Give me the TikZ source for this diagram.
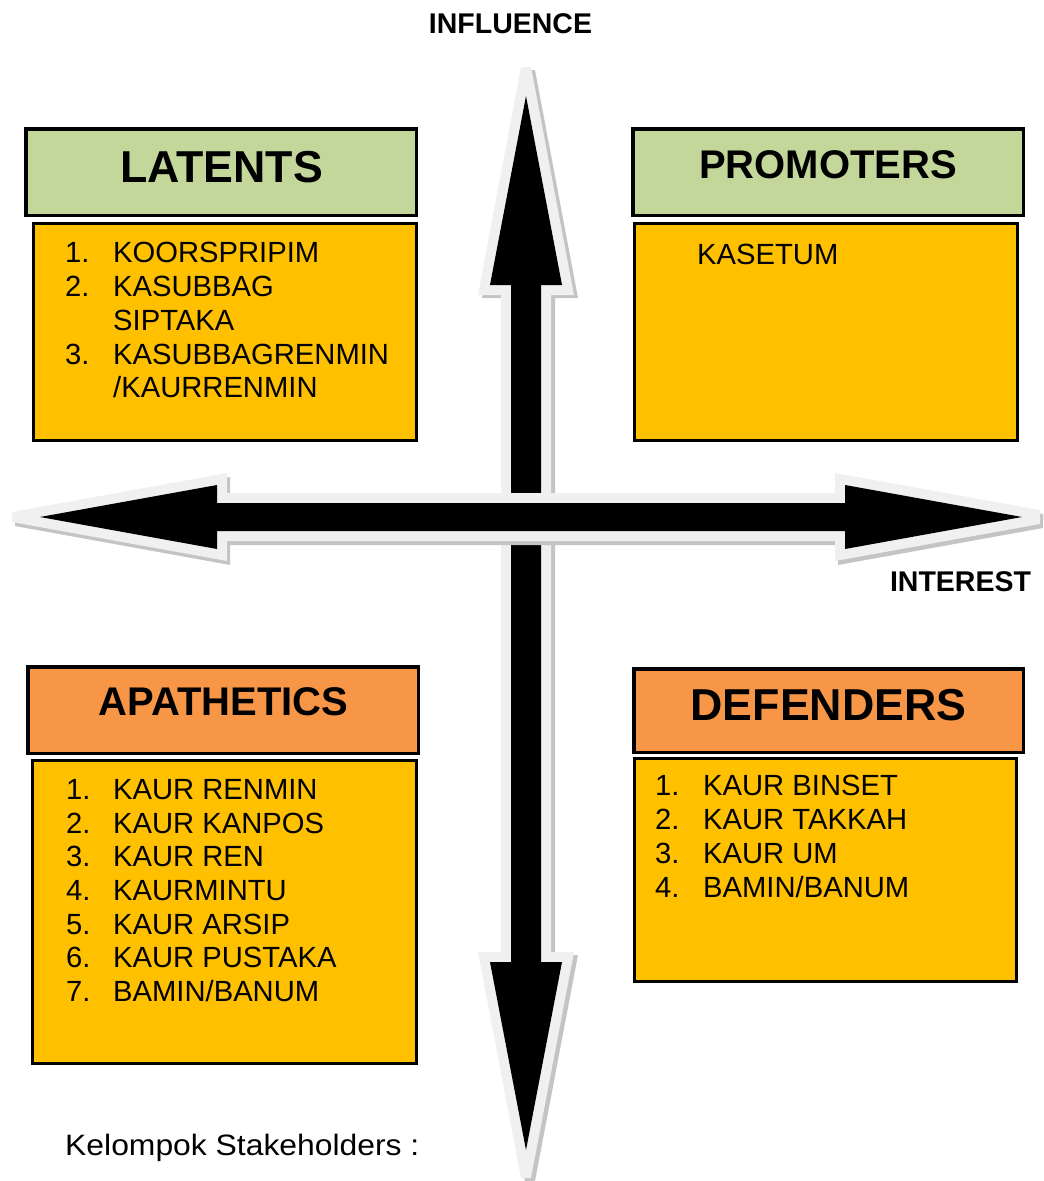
\documentclass[tikz,border=0pt]{standalone}
\usepackage{fontspec}
\setmainfont{Liberation Sans}
\definecolor{hdrgreen}{HTML}{C4D79B}
\definecolor{hdrorange}{HTML}{F79646}
\definecolor{bodyamber}{HTML}{FFC000}
\definecolor{arrowrim}{HTML}{F0F0F0}
\definecolor{arrowshade}{HTML}{C4C4C4}
\tikzset{
  hdrbox/.style={draw=black, line width=3.5pt, inner sep=0pt, outer sep=0pt},
  bodybox/.style={draw=black, line width=3pt, fill=bodyamber, inner sep=0pt, outer sep=0pt},
  bigtitle/.style={inner sep=0pt, font=\fontsize{44.7}{50}\selectfont\bfseries},
  midtitle/.style={inner sep=0pt, font=\fontsize{40}{46}\selectfont\bfseries},
  itemtxt/.style={inner sep=0pt, anchor=base west, font=\fontsize{29.2}{34}\selectfont},
  axislabel/.style={inner sep=0pt, anchor=base, font=\fontsize{28.5}{32}\selectfont\bfseries},
  rim/.style={fill=arrowrim},
  shade/.style={fill=arrowshade},
  core/.style={fill=black}
}
\begin{document}
\begin{tikzpicture}[x=1pt,y=-1pt]
\useasboundingbox (0,0) rectangle (1044,1181);

% vertical double arrow (influence axis)
\fill[shade, shift={(4,3)}] (521,67) -- (531,67) -- (574,295) -- (551,295) -- (551,952) -- (574,952)
  -- (531,1178) -- (521,1178) -- (478,952) -- (501,952) -- (501,295) -- (478,295) -- cycle;
\fill[rim] (521,67) -- (531,67) -- (574,295) -- (551,295) -- (551,952) -- (574,952)
  -- (531,1178) -- (521,1178) -- (478,952) -- (501,952) -- (501,295) -- (478,295) -- cycle;
\fill[core] (526,96) -- (562,285) -- (541,285) -- (541,962) -- (562,962) -- (526,1150)
  -- (490,962) -- (511,962) -- (511,285) -- (490,285) -- cycle;

% horizontal double arrow (interest axis)
\fill[shade, shift={(3,4)}] (12,512) -- (227,473) -- (227,493) -- (835,493) -- (835,473) -- (1040,510)
  -- (1040,524) -- (835,561) -- (835,541) -- (227,541) -- (227,561) -- (12,522) -- cycle;
\fill[rim] (12,512) -- (227,473) -- (227,493) -- (835,493) -- (835,473) -- (1040,510)
  -- (1040,524) -- (835,561) -- (835,541) -- (227,541) -- (227,561) -- (12,522) -- cycle;
\fill[core] (40,517) -- (217,485) -- (217,503) -- (845,503) -- (845,485) -- (1022,517)
  -- (845,549) -- (845,531) -- (217,531) -- (217,549) -- cycle;

% axis labels
\node[axislabel] (influence) at (510.5,33) {INFLUENCE};
\node[axislabel] (interest) at (960.5,591) {INTEREST};

% quadrant: latents
\node[hdrbox, fill=hdrgreen, minimum width=390.5pt, minimum height=86.5pt] (latH) at (221,172) {};
\node[bodybox, minimum width=383pt, minimum height=217pt] (latB) at (225,332) {};
\node[bigtitle, anchor=base] (latT) at (221.5,182) {LATENTS};
\node[itemtxt] (latN1) at (65,262) {1.};
\node[itemtxt] (latI1) at (113,262) {KOORSPRIPIM};
\node[itemtxt] (latN2) at (65,296) {2.};
\node[itemtxt] (latI2) at (113,296) {KASUBBAG};
\node[itemtxt] (latI2b) at (113,330) {SIPTAKA};
\node[itemtxt] (latN3) at (65,364) {3.};
\node[itemtxt] (latI3) at (113,364) {KASUBBAGRENMIN};
\node[itemtxt] (latI3b) at (113,397) {/KAURRENMIN};

% quadrant: promoters
\node[hdrbox, fill=hdrgreen, minimum width=390.5pt, minimum height=86.5pt] (proH) at (828,172) {};
\node[bodybox, minimum width=383pt, minimum height=217pt] (proB) at (826,332) {};
\node[midtitle, anchor=base] (proT) at (828,178) {PROMOTERS};
\node[itemtxt] (proI1) at (697,264) {KASETUM};

% quadrant: apathetics
\node[hdrbox, fill=hdrorange, minimum width=390.5pt, minimum height=86.5pt] (apaH) at (223,710) {};
\node[bodybox, minimum width=384pt, minimum height=303pt] (apaB) at (224.5,912) {};
\node[midtitle, anchor=base] (apaT) at (223.5,715) {APATHETICS};
\node[itemtxt] (apaN1) at (66,799.5) {1.};
\node[itemtxt] (apaI1) at (113,799.5) {KAUR RENMIN};
\node[itemtxt] (apaN2) at (66,833) {2.};
\node[itemtxt] (apaI2) at (113,833) {KAUR KANPOS};
\node[itemtxt] (apaN3) at (66,866.5) {3.};
\node[itemtxt] (apaI3) at (113,866.5) {KAUR REN};
\node[itemtxt] (apaN4) at (66,900.5) {4.};
\node[itemtxt] (apaI4) at (113,900.5) {KAURMINTU};
\node[itemtxt] (apaN5) at (66,934) {5.};
\node[itemtxt] (apaI5) at (113,934) {KAUR ARSIP};
\node[itemtxt] (apaN6) at (66,967.5) {6.};
\node[itemtxt] (apaI6) at (113,967.5) {KAUR PUSTAKA};
\node[itemtxt] (apaN7) at (66,1001.5) {7.};
\node[itemtxt] (apaI7) at (113,1001.5) {BAMIN/BANUM};

% quadrant: defenders
\node[hdrbox, fill=hdrorange, minimum width=389.5pt, minimum height=83.5pt] (defH) at (828.5,710.5) {};
\node[bodybox, minimum width=382pt, minimum height=223pt] (defB) at (825.5,870) {};
\node[bigtitle, anchor=base] (defT) at (828.5,720) {DEFENDERS};
\node[itemtxt] (defN1) at (655,795) {1.};
\node[itemtxt] (defI1) at (703,795) {KAUR BINSET};
\node[itemtxt] (defN2) at (655,829) {2.};
\node[itemtxt] (defI2) at (703,829) {KAUR TAKKAH};
\node[itemtxt] (defN3) at (655,863) {3.};
\node[itemtxt] (defI3) at (703,863) {KAUR UM};
\node[itemtxt] (defN4) at (655,897) {4.};
\node[itemtxt] (defI4) at (703,897) {BAMIN/BANUM};

% caption, set slightly wide
\node[itemtxt, font=\fontsize{29.5}{34}\selectfont, xscale=1.08, transform shape] (caption) at (65,1155) {Kelompok Stakeholders :};
\end{tikzpicture}
\end{document}
